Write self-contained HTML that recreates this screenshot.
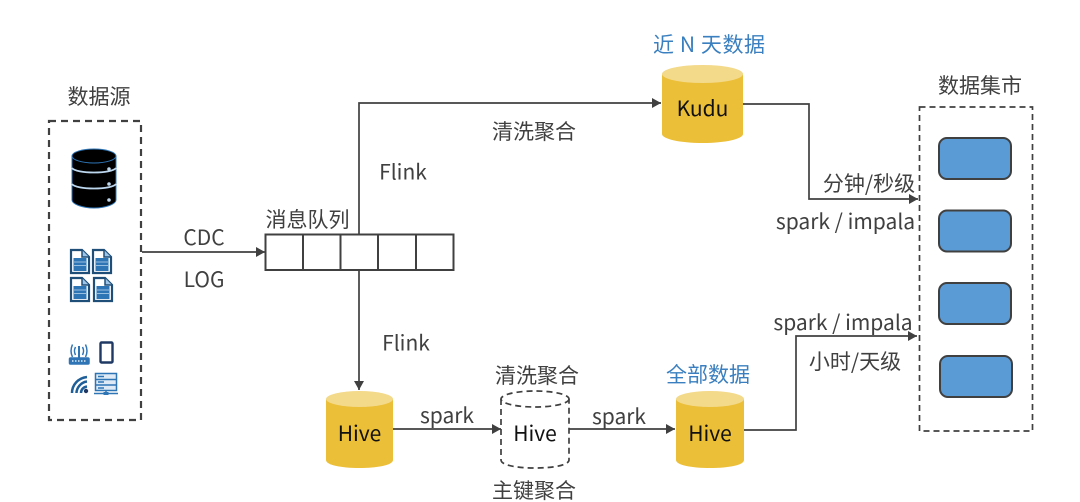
<!DOCTYPE html>
<html><head><meta charset="utf-8">
<style>
html,body{margin:0;padding:0;background:#fff;width:1080px;height:502px;overflow:hidden}
svg{display:block}
text{font-family:"Noto Sans CJK SC","Liberation Sans",sans-serif;font-size:21px;fill:#404040;text-anchor:middle}
.b{fill:#3A7FBF}
.k{fill:#111}
</style></head>
<body>
<svg width="1080" height="502" viewBox="0 0 1080 502" xmlns="http://www.w3.org/2000/svg">
<defs>
<marker id="a" markerUnits="userSpaceOnUse" markerWidth="9" markerHeight="10" refX="9" refY="5" orient="auto"><path d="M0 0L9 5L0 10Z" fill="#404040"/></marker>
<g id="doc"><path d="M1 1H12L19 8V24H1Z" fill="#fff" stroke="#1F4E79" stroke-width="2.200"/><path d="M12 1V8H19" fill="#9DC3E6" stroke="#1F4E79" stroke-width="1.500"/><rect x="3.500" y="9" width="13" height="13" fill="#2E75B6"/><path d="M4 13H16M4 16.500H16" stroke="#BDD7EE" stroke-width=".8"/></g>
</defs>

<!-- left box -->
<rect x="49" y="121" width="92" height="299" fill="none" stroke="#404040" stroke-width="2.200" stroke-dasharray="7 5"/>
<text x="99" y="104">数据源</text>

<!-- database icon -->
<g stroke="#2E75B6" stroke-width="1">
<path d="M72 156V200C72 204 82 208 94 208S116 204 116 200V156Z" fill="#000"/>
<ellipse cx="94" cy="156" rx="22" ry="7" fill="#000"/>
</g>
<path d="M72 168C76 174 112 174 116 168M72 184C76 190 112 190 116 184" fill="none" stroke="#BDD7EE" stroke-width="1.800"/>
<circle cx="109" cy="169" r="1.800" fill="#BDD7EE"/><circle cx="109" cy="184" r="1.800" fill="#BDD7EE"/><circle cx="109" cy="200" r="1.800" fill="#BDD7EE"/>

<!-- document icons -->
<use href="#doc" x="70" y="249"/><use href="#doc" x="92" y="249"/>
<use href="#doc" x="70" y="277"/><use href="#doc" x="93" y="277"/>

<!-- device icons -->
<g fill="none" stroke="#2E75B6" stroke-width="1.500">
<rect x="69.500" y="358" width="19.500" height="6" rx="1" fill="#2E75B6"/>
<path d="M79 346V358" stroke-width="2"/>
<path d="M75.500 347C74 350 74 352 75.500 355M82.500 347C84 350 84 352 82.500 355M72.500 344.500C70.500 349 70.500 353 72.500 357M85.500 344.500C87.500 349 87.500 353 85.500 357"/>
</g>
<path d="M72 361H87" stroke="#DEEBF7" stroke-width="1.500" stroke-dasharray="1.500 1.500"/>
<rect x="100.500" y="342.500" width="12" height="20" rx="1" fill="#fff" stroke="#1F3864" stroke-width="2.400"/>
<g fill="none" stroke="#1F5F99" stroke-width="2.500">
<path d="M72 393C72 385 78 378 87 377M76.500 393C76.500 388 81 382 87 381.500M81 393C81 390 83 387 87 386.500"/>
</g>
<circle cx="86" cy="391" r="2.200" fill="#1F3864"/>
<rect x="95.500" y="373.500" width="21" height="17" fill="#DEEBF7" stroke="#2E75B6" stroke-width="1.500"/>
<path d="M96 379.500H116M96 385H116" stroke="#2E75B6" stroke-width="1.500"/>
<path d="M98 376.500H104M98 382H104M98 388H104" stroke="#2E75B6" stroke-width="1.500"/>
<path d="M94 393.500H118M106 391V393" stroke="#2E75B6" stroke-width="1.500"/>
<rect x="103.500" y="392" width="5" height="3" fill="#2E75B6"/>

<!-- connectors -->
<g fill="none" stroke="#404040" stroke-width="1.700">
<path d="M142 252H265" marker-end="url(#a)"/>
<path d="M359 234V103H661" marker-end="url(#a)"/>
<path d="M359 270V390" marker-end="url(#a)"/>
<path d="M393 429H501" marker-end="url(#a)"/>
<path d="M569 429H675" marker-end="url(#a)"/>
<path d="M744 430H796V336H917" marker-end="url(#a)"/>
<path d="M743 104H809V199H918" marker-end="url(#a)"/>
</g>

<!-- queue -->
<rect x="265.500" y="234.500" width="188" height="35.500" fill="#fff" stroke="#404040" stroke-width="2"/>
<path d="M303 234V270M340.500 234V270M378 234V270M416 234V270" stroke="#404040" stroke-width="2"/>
<text x="307.500" y="227">消息队列</text>
<text x="204" y="245">CDC</text>
<text x="204" y="287">LOG</text>
<text x="403" y="179.500">Flink</text>
<text x="406" y="350.500">Flink</text>
<text x="534" y="139">清洗聚合</text>

<!-- Kudu -->
<path d="M662 74V134C662 139 680 143 702.500 143S743 139 743 134V74Z" fill="#ECBF38"/>
<ellipse cx="702.500" cy="74" rx="40.500" ry="9" fill="#F3D98A"/>
<text x="702.500" y="116" class="k">Kudu</text>
<text x="709" y="52" class="b" textLength="112" lengthAdjust="spacing">近 N 天数据</text>

<!-- Hive 1 -->
<path d="M326 399V460C326 465 341 468 359.500 468S393 465 393 460V399Z" fill="#ECBF38"/>
<ellipse cx="359.500" cy="399" rx="33.500" ry="8" fill="#F3D98A"/>
<text x="359.500" y="441" class="k">Hive</text>
<text x="447" y="423">spark</text>

<!-- dashed Hive -->
<g fill="#fff" stroke="#404040" stroke-width="1.700" stroke-dasharray="6 4">
<path d="M501 399V460C501 465 516 468 535 468S569 465 569 460V399"/>
<ellipse cx="535" cy="399" rx="34" ry="8"/>
</g>
<text x="535" y="441" class="k">Hive</text>
<text x="537" y="383">清洗聚合</text>
<text x="534" y="498">主键聚合</text>
<text x="619" y="424">spark</text>

<!-- Hive 2 -->
<path d="M676 399V460C676 465 691 468 710 468S744 465 744 460V399Z" fill="#ECBF38"/>
<ellipse cx="710" cy="399" rx="34" ry="8" fill="#F3D98A"/>
<text x="710" y="441" class="k">Hive</text>
<text x="708" y="382" class="b">全部数据</text>

<!-- labels right -->
<text x="869" y="191">分钟/秒级</text>
<text x="845.500" y="229">spark / impala</text>
<text x="843" y="330">spark / impala</text>
<text x="855" y="369">小时/天级</text>

<!-- mart -->
<rect x="919.500" y="107" width="113" height="324" fill="none" stroke="#404040" stroke-width="1.700" stroke-dasharray="6 4"/>
<text x="980" y="93">数据集市</text>
<g fill="#5B9BD5" stroke="#404040" stroke-width="2">
<rect x="939" y="138" width="72" height="41" rx="8"/>
<rect x="939" y="210.500" width="72" height="41" rx="8"/>
<rect x="939" y="283" width="72" height="41" rx="8"/>
<rect x="940" y="356" width="72" height="41" rx="8"/>
</g>
</svg>
</body></html>
